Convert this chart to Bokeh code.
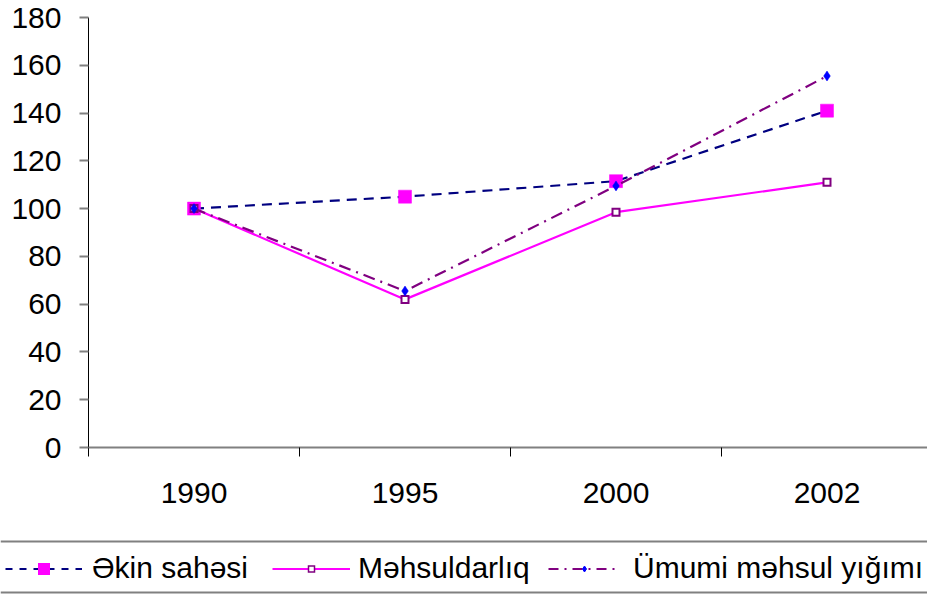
import numpy as np
from bokeh.plotting import figure
from bokeh.models import Range1d, FixedTicker, Legend, LegendItem, Span
from bokeh.embed import file_html
from bokeh.resources import INLINE

# ---- data ----
years = ["1990", "1995", "2000", "2002"]
series_names = ["Əkin sahəsi", "Məhsuldarlıq", "Ümumi məhsul yığımı"]
ekin_sahesi = [100, 105, 111.5, 141]
mehsuldarliq = [100, 62, 98.5, 111]
umumi_mehsul = [100, 65.5, 109.5, 155.5]
y_ticks = [0, 20, 40, 60, 80, 100, 120, 140, 160, 180]

FONT = "Liberation Sans"
W = 927
H1, H2 = 535, 59
LEFT, TOP, FRAME_H = 88, 17, 430
CAT_PX = 211.0
FRAME_W = W - LEFT

NAVY = "#000080"
MAGENTA = "#FF00FF"
PURPLE = "#800080"
BLUE = "#0000FF"
GRAY = "#808080"

# categories at odd integers, category boundaries at even integers
xs = [2 * i + 1 for i in range(len(years))]
bounds = [2 * i for i in range(len(years) + 1)]

p = figure(width=W, height=H1, output_backend="svg", toolbar_location=None,
           x_range=Range1d(0, 2 * FRAME_W / CAT_PX), y_range=Range1d(0, 180),
           min_border_left=LEFT, min_border_right=0, min_border_top=TOP,
           min_border_bottom=H1 - TOP - FRAME_H)
p.outline_line_color = None
p.xgrid.visible = False
p.ygrid.visible = False

p.line(xs, ekin_sahesi, line_color=NAVY, line_width=2.2, line_dash="10 7")
p.scatter(xs, ekin_sahesi, marker="square", size=13, fill_color=MAGENTA, line_color=MAGENTA,
          line_width=0.5, line_join="miter")
p.line(xs, mehsuldarliq, line_color=MAGENTA, line_width=2.2)
p.scatter(xs, mehsuldarliq, marker="square", size=7, fill_color="white", line_color=PURPLE,
          line_width=2, line_join="miter")
p.line(xs, umumi_mehsul, line_color=PURPLE, line_width=2.2, line_dash="12 6 2 6")
p.scatter(xs, umumi_mehsul, marker="diamond", size=10, fill_color=BLUE, line_color=BLUE, line_width=0.5)

xa = p.xaxis[0]
xa.ticker = FixedTicker(ticks=xs, minor_ticks=bounds)
xa.major_label_overrides = {x: y for x, y in zip(xs, years)}
xa.axis_line_color = GRAY
xa.axis_line_width = 2
xa.major_tick_out = 0
xa.major_tick_in = 0
xa.minor_tick_out = 9
xa.minor_tick_in = 0
xa.minor_tick_line_color = "black"
xa.minor_tick_line_width = 1
xa.major_label_standoff = 26
xa.major_label_text_font = FONT
xa.major_label_text_font_size = "30px"
xa.major_label_text_color = "black"

ya = p.yaxis[0]
ya.ticker = FixedTicker(ticks=y_ticks)
ya.axis_line_color = "black"
ya.axis_line_width = 1
ya.major_tick_line_color = GRAY
ya.major_tick_line_width = 2
ya.major_tick_out = 9
ya.major_tick_in = 0
ya.minor_tick_line_color = None
ya.major_label_standoff = 18
ya.major_label_text_font = FONT
ya.major_label_text_font_size = "30px"
ya.major_label_text_color = "black"

# ---- legend strip (separate root, full width) ----
p2 = figure(width=W, height=H2, output_backend="svg", toolbar_location=None,
            x_range=Range1d(0, W), y_range=Range1d(0, H2),
            min_border_left=0, min_border_right=0, min_border_top=0, min_border_bottom=0,
            x_axis_location=None, y_axis_location=None)
p2.outline_line_color = None
p2.xgrid.visible = False
p2.ygrid.visible = False
p2.add_layout(Span(location=H2 - 6, dimension="width", line_color=GRAY, line_width=2))
p2.add_layout(Span(location=2, dimension="width", line_color=GRAY, line_width=2))

nan = np.array([np.nan])
k1 = p2.line(nan, nan, line_color=NAVY, line_width=2, line_dash="7 7")
m1 = p2.scatter(nan, nan, marker="square", fill_color=MAGENTA, line_color=MAGENTA,
                line_width=6, line_join="miter")
k2 = p2.line(nan, nan, line_color=MAGENTA, line_width=2)
m2 = p2.scatter(nan, nan, marker="square", fill_color="white", line_color=PURPLE,
                line_width=1.5, line_join="miter")
k3 = p2.line(nan, nan, line_color=PURPLE, line_width=2, line_dash="10 6 2 6")
m3 = p2.scatter(nan, nan, marker="diamond", fill_color=BLUE, line_color=BLUE, line_width=1)

specs = [
    (series_names[0], [k1, m1], 5, 77, 10),
    (series_names[1], [k2, m2], 272, 78, 8),
    (series_names[2], [k3, m3], 548, 72, 13),
]
for label, rends, lx, gw, st in specs:
    leg = Legend(items=[LegendItem(label=label, renderers=rends)],
                 location=(lx, 9), orientation="horizontal",
                 glyph_width=gw, glyph_height=15, label_standoff=st,
                 label_text_font=FONT, label_text_font_size="30px",
                 label_text_color="black", padding=0, margin=0, spacing=0,
                 border_line_color=None, background_fill_alpha=0)
    p2.add_layout(leg, "center")

open("out.html", "w").write(file_html([p, p2], INLINE))
